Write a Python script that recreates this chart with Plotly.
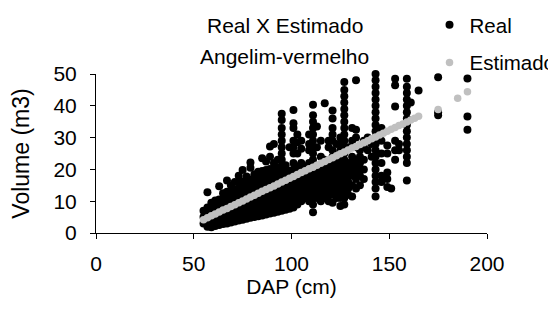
import plotly.graph_objects as go

# ---- data ----
real_dap_cols = [55, 57, 59, 61, 63, 65, 67, 69, 71, 73, 75, 77, 79, 81, 83, 85, 87, 89, 91, 93,
                 95, 97, 99, 101, 103, 105, 107, 109, 111, 113, 115, 117, 119, 121, 123, 125, 127,
                 129, 131, 133, 135, 137, 139, 141, 143, 146, 149, 151, 153, 155, 159, 161, 165,
                 175, 190]
real_vol_cols = [
    [3, 5, 7],
    [2, 4, 6, 8, 12.8],
    [1.8, 3.8, 5.8, 7.8, 9.5],
    [2.2, 4.2, 6.2, 8.2, 10.2],
    [2.5, 4.5, 6.5, 8.5, 10.5, 14.7],
    [2.8, 4.8, 6.8, 8.8, 10.8, 12.5],
    [3, 5, 7, 9, 11, 13, 16.5],
    [3.3, 5.3, 7.3, 9.3, 11.3, 13.3, 15],
    [3.6, 5.6, 7.6, 9.6, 11.6, 13.6, 16],
    [3.9, 5.9, 7.9, 9.9, 11.9, 13.9, 15.9, 18],
    [4.2, 6.2, 8.2, 10.2, 12.2, 14.2, 16.2, 19.8],
    [4.5, 6.5, 8.5, 10.5, 12.5, 14.5, 16.5, 17.8],
    [4.8, 6.8, 8.8, 10.8, 12.8, 14.8, 16.8, 20.5, 22.2],
    [5, 7, 9, 11, 13, 15, 17, 18.5],
    [5.3, 7.3, 9.3, 11.3, 13.3, 15.3, 17.3, 19.3],
    [5.5, 7.5, 9.5, 11.5, 13.5, 15.5, 17.5, 19.5, 23.5],
    [5.8, 7.8, 9.8, 11.8, 13.8, 15.8, 17.8, 19.8, 22.5],
    [6.1, 8.1, 10.1, 12.1, 14.1, 16.1, 18.1, 20.1, 24, 27.2],
    [6.4, 8.4, 10.4, 12.4, 14.4, 16.4, 18.4, 20.4, 22, 28],
    [6.7, 8.7, 10.7, 12.7, 14.7, 16.7, 18.7, 20.7, 23],
    [7, 9, 11, 13, 15, 17, 19, 21, 23, 25, 27, 29, 31, 33, 35.5, 37.5],
    [7.3, 9.3, 11.3, 13.3, 15.3, 17.3, 19.3, 21.3],
    [7.6, 9.6, 11.6, 13.6, 15.6, 17.6, 19.6, 27],
    [8, 10, 12, 14, 16, 18, 20, 22, 25, 27, 29, 33, 34.5, 38.7],
    [9, 11, 13, 15, 17, 19, 21, 25, 28.5, 31],
    [10, 12, 14, 16, 18, 20, 22, 26.5, 29],
    [11, 13, 15, 17, 19, 21],
    [10, 12, 14, 16, 18, 20, 22, 26, 28, 31],
    [6.5, 9, 11, 13, 15, 17, 19, 21, 23, 25, 27, 29, 31, 33, 35, 37, 40.3],
    [11, 13, 15, 17, 19, 21, 27, 33.5],
    [10, 12, 14, 16, 18, 20, 24, 29],
    [11, 13, 15, 17, 19, 21, 23, 40.8],
    [10, 12, 14, 16, 18, 20, 22, 27, 29],
    [9.5, 12, 14, 16, 18, 20, 22, 24, 26, 29, 31, 33, 36, 38.5],
    [11, 13, 15, 17, 19, 21, 23, 28],
    [8.5, 11, 13, 15, 17, 19, 21, 23, 26, 28, 30],
    [9, 11, 13, 15, 17, 19, 21, 23, 25, 27, 29, 31, 33, 35, 37, 39, 41, 43, 45, 47.5],
    [12, 14, 16, 18, 20, 22, 27],
    [11.5, 15, 18, 20, 22, 24, 29, 33],
    [14, 17, 19, 21, 23, 27, 30, 32.5, 48],
    [15, 18, 20, 22, 24, 26],
    [17, 20, 23, 27, 29],
    [26, 30],
    [24, 28],
    [11.5, 14, 16, 18, 20, 22, 24, 26, 28, 30, 32, 34, 36, 38, 40, 42, 44, 46, 48, 50],
    [16, 18, 22, 25, 29, 33],
    [14.5, 17, 19, 25, 27.5],
    [14],
    [23, 26, 29, 39.8, 46.5, 48.5],
    [26, 28],
    [16.5, 22, 24, 26, 28, 30, 32, 34, 36, 38, 40, 42, 44, 46, 48.5],
    [41],
    [44.8],
    [37, 38, 49],
    [32.5, 36.6, 48.6],
]

est_dap = [55, 57, 59, 61, 63, 65, 67, 69, 71, 73, 75, 77, 79, 81, 83, 85, 87, 89, 91, 93,
           95, 97, 99, 101, 103, 105, 107, 109, 111, 113, 115, 117, 119, 121, 123, 125, 127,
           129, 131, 133, 135, 137, 139, 141, 143, 145, 147, 149, 151, 153, 155, 157, 159,
           161, 163, 165, 175, 185, 190]
est_vol = [4.2, 4.8, 5.4, 6.0, 6.6, 7.2, 7.7, 8.3, 8.9, 9.5, 10.1, 10.7, 11.3, 11.9, 12.5,
           13.1, 13.7, 14.2, 14.8, 15.4, 16.0, 16.6, 17.2, 17.8, 18.4, 19.0, 19.6, 20.2, 20.7,
           21.3, 21.9, 22.5, 23.1, 23.7, 24.3, 24.9, 25.5, 26.1, 26.7, 27.2, 27.8, 28.4, 29.0,
           29.6, 30.2, 30.8, 31.4, 32.0, 32.6, 33.2, 33.8, 34.3, 34.9, 35.5, 36.1, 36.7,
           38.8, 42.4, 44.4]

x_ticks = [0, 50, 100, 150, 200]
y_ticks = [0, 10, 20, 30, 40, 50]

real_dap = [d for d, vs in zip(real_dap_cols, real_vol_cols) for _ in vs]
real_vol = [v for vs in real_vol_cols for v in vs]

FONT = "Arial, Liberation Sans, sans-serif"

fig = go.Figure()
fig.add_trace(go.Scatter(
    x=real_dap, y=real_vol, mode="markers", name="Real",
    marker=dict(color="#000000", size=8, line=dict(width=0)),
    cliponaxis=False, legendgroup="a"))
fig.add_trace(go.Scatter(
    x=est_dap, y=est_vol, mode="markers", name="Estimado",
    marker=dict(color="#C0C0C0", size=7.5, line=dict(width=0)),
    cliponaxis=False, legendgroup="b"))

axis_common = dict(
    showline=True, linecolor="black", linewidth=1, mirror=False,
    ticks="outside", ticklen=5, tickcolor="black", tickwidth=1,
    showgrid=False, zeroline=False,
    tickfont=dict(family=FONT, size=21, color="black"),
)

# the page body adds an 8px offset, so the figure is 8px smaller and shifted
fig.update_layout(
    width=548, height=306,
    margin=dict(l=88, r=69, t=66, b=81, autoexpand=False),
    paper_bgcolor="white", plot_bgcolor="white",
    font=dict(family=FONT, size=21, color="black"),
    showlegend=True,
    legend=dict(x=0.853, xanchor="left", y=1.434, yanchor="top",
                font=dict(family=FONT, size=20.5, color="black"),
                tracegroupgap=8, bgcolor="rgba(0,0,0,0)", itemwidth=30),
    xaxis=dict(range=[0, 200], tickvals=x_ticks, ticklabelstandoff=7,
               title=dict(text="DAP (cm)", standoff=2,
                          font=dict(family=FONT, size=21, color="black")),
               **axis_common),
    yaxis=dict(range=[0, 50], tickvals=y_ticks, ticklabelstandoff=9,
               title=dict(text="Volume (m3)", standoff=21,
                          font=dict(family=FONT, size=23, color="black")),
               **axis_common),
    annotations=[
        dict(text="Real X Estimado", xref="paper", yref="paper", x=0.483, y=1.308,
             xanchor="center", yanchor="middle", showarrow=False,
             font=dict(family=FONT, size=21, color="black")),
        dict(text="Angelim-vermelho", xref="paper", yref="paper", x=0.483, y=1.107,
             xanchor="center", yanchor="middle", showarrow=False,
             font=dict(family=FONT, size=21, color="black")),
    ],
)

fig.write_html("out.html")
